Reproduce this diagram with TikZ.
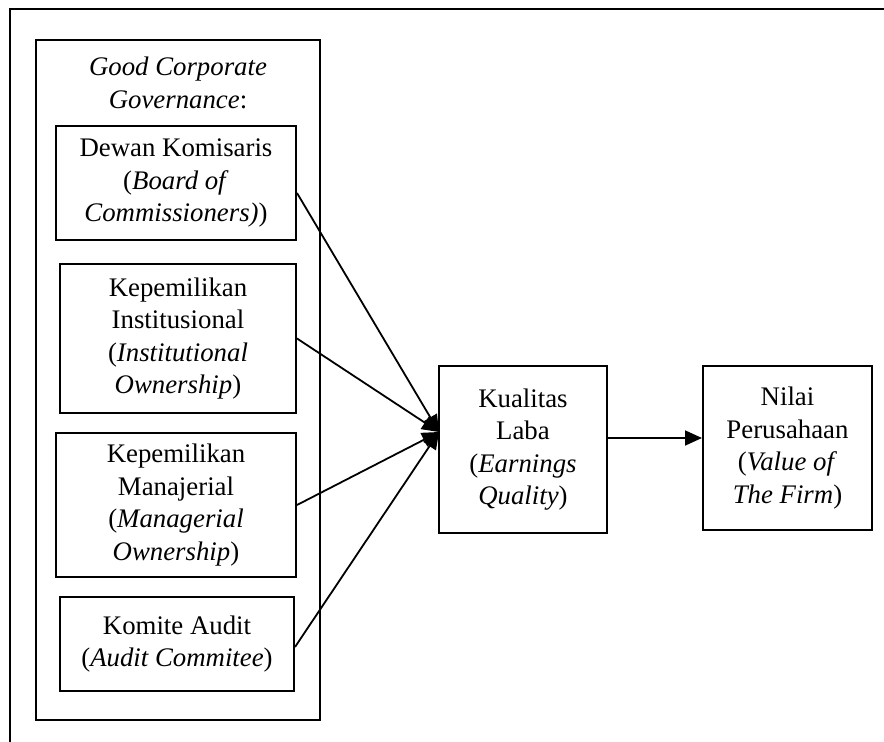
\documentclass[tikz,border=0pt]{standalone}
\usepackage{fontspec}
\setmainfont{Liberation Serif}
\usepackage{tikz}
\usetikzlibrary{arrows.meta}

\tikzset{
  kotak/.style={draw, line width=1pt, inner sep=0pt, align=center, font=\fontsize{13.4}{16.3}\selectfont},
  panah/.style={line width=0.9pt, -{Triangle[length=8.5pt,width=7.5pt]}}
}

\begin{document}
\begin{tikzpicture}[x=0.5pt,y=0.5pt,yscale=-1,xscale=1]
\useasboundingbox (0,0) rectangle (884,742);

%Shape: Frame (cut at right and bottom)
\draw [line width=1pt] (884,9) -- (10,9) -- (10,742) ;

%Shape: Rectangle [Good Corporate Governance]
\node [kotak, minimum width=142pt, minimum height=340pt] (gcg) at (178,380) {};
% Text Node
\node [align=center, inner sep=0pt, font=\fontsize{13.4}{16.3}\selectfont] (gcgjudul) at (178,83) {\textit{Good Corporate}\\\textit{Governance}:};

%Shape: Rectangle
\node [kotak, minimum width=120pt, minimum height=57pt] (dewan) at (176,183) {Dewan Komisaris\\(\textit{Board of}\\\textit{Commissioners)})};
%Shape: Rectangle
\node [kotak, minimum width=118pt, minimum height=74.5pt] (inst) at (178,338.5) {Kepemilikan\\Institusional\\(\textit{Institutional}\\\textit{Ownership})};
%Shape: Rectangle
\node [kotak, minimum width=120pt, minimum height=72pt] (mana) at (176,505) {Kepemilikan\\Manajerial\\(\textit{Managerial}\\\textit{Ownership})};
%Shape: Rectangle
\node [kotak, minimum width=117pt, minimum height=47pt] (audit) at (177,644) {Komite Audit\\(\textit{Audit Commitee})};

%Shape: Rectangle
\node [kotak, minimum width=84pt, minimum height=83.5pt] (kual) at (523,449.5) {Kualitas\\Laba\\(\textit{Earnings}\\\textit{Quality})};
%Shape: Rectangle
\node [kotak, minimum width=84.5pt, minimum height=82pt] (nilai) at (787.5,448) {Nilai\\Perusahaan\\(\textit{Value of}\\\textit{The Firm})};

\coordinate (temu) at (439,432);

%Straight Lines
\draw [panah] ([yshift=5pt]dewan.east) -- (temu) ;
\draw [panah] (inst.east) -- (temu) ;
\draw [panah] (mana.east) -- (temu) ;
\draw [panah] ([yshift=1.5pt]audit.east) -- (temu) ;
\draw [panah] ([yshift=-5.75pt]kual.east) -- ([yshift=-5pt]nilai.west) ;
\end{tikzpicture}
\end{document}
